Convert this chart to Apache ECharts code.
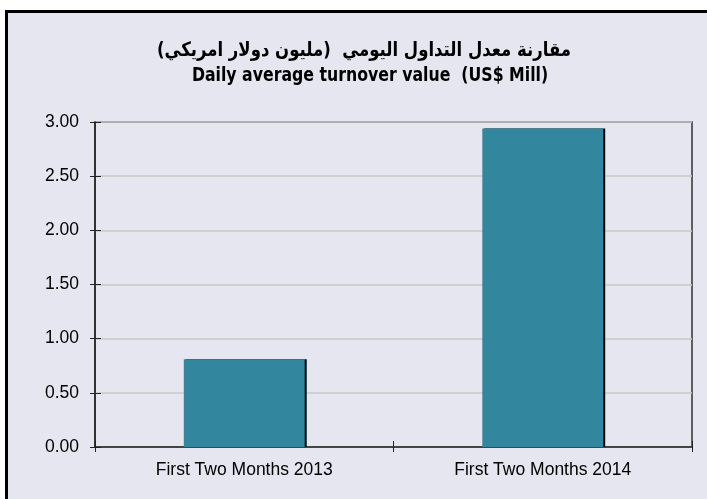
<!DOCTYPE html>
<html>
<head>
<meta charset="utf-8">
<script src="https://cdn.jsdelivr.net/npm/echarts@6/dist/echarts.min.js"></script>
<style>
html,body{margin:0;padding:0;background:#ffffff;}
#frame{position:absolute;left:5px;top:10px;width:720px;height:520px;background:#e6e6f0;border-left:3px solid #000;border-top:3px solid #000;}
#chart{position:absolute;left:0;top:0;width:707px;height:499px;}
</style>
</head>
<body>
<div id="frame"></div>
<div id="chart"></div>
<script>
const titleArabic = 'مقارنة معدل التداول اليومي  (مليون دولار امريكي)';
const titleEnglish = 'Daily average turnover value  (US$ Mill)';
const categories = ['First Two Months 2013', 'First Two Months 2014'];
const values = [0.81, 2.94];
const yMin = 0, yMax = 3, yStep = 0.5;

const chart = echarts.init(document.getElementById('chart'), null, {renderer: 'canvas'});
chart.setOption({
  backgroundColor: 'transparent',
  animation: false,
  graphic: [
    {type: 'text', x: 364, y: 51, scaleY: 1.2, style: {text: titleArabic, fill: '#000', font: 'bold 16.5px "DejaVu Sans"', textAlign: 'center', textVerticalAlign: 'middle'}},
    {type: 'text', x: 370, y: 76, scaleY: 1.15, style: {text: titleEnglish, fill: '#000', font: 'bold 17.5px "DejaVu Sans Condensed", "DejaVu Sans"', textAlign: 'center', textVerticalAlign: 'middle'}}
  ],
  grid: {left: 95, top: 122, right: 15, bottom: 52, show: true, borderColor: '#333', borderWidth: 1.5, backgroundColor: 'transparent'},
  xAxis: [
    {type: 'category', data: categories, position: 'bottom',
     axisLine: {lineStyle: {color: '#222', width: 1.5}},
     axisTick: {show: true, length: 5, lineStyle: {color: '#222'}},
     axisLabel: {color: '#000', fontSize: 17.5, fontFamily: '"Liberation Sans", Arial', margin: 14}},
    {type: 'category', data: categories, position: 'bottom',
     axisLine: {show: false},
     axisTick: {show: true, inside: true, length: 6, lineStyle: {color: '#222'}},
     axisLabel: {show: false}}
  ],
  yAxis: [
    {type: 'value', min: yMin, max: yMax, interval: yStep, position: 'left',
     axisLine: {show: true, lineStyle: {color: '#222', width: 1.5}},
     axisTick: {show: true, length: 5, lineStyle: {color: '#222'}},
     axisLabel: {color: '#000', fontSize: 17.5, fontFamily: '"Liberation Sans", Arial', margin: 16, formatter: v => v.toFixed(2)},
     splitLine: {show: true, lineStyle: {color: '#c8c8c8', width: 1.5}}},
    {type: 'value', min: yMin, max: yMax, interval: yStep, position: 'left',
     axisLine: {show: false},
     axisTick: {show: true, inside: true, length: 6, lineStyle: {color: '#222'}},
     axisLabel: {show: false},
     splitLine: {show: false}}
  ],
  series: [{
    type: 'bar', data: values, xAxisIndex: 0, yAxisIndex: 0,
    barWidth: '40.5%',
    itemStyle: {color: '#32879e',
                shadowColor: '#000', shadowOffsetX: 2, shadowOffsetY: 0, shadowBlur: 0}
  }]
});
</script>
</body>
</html>
